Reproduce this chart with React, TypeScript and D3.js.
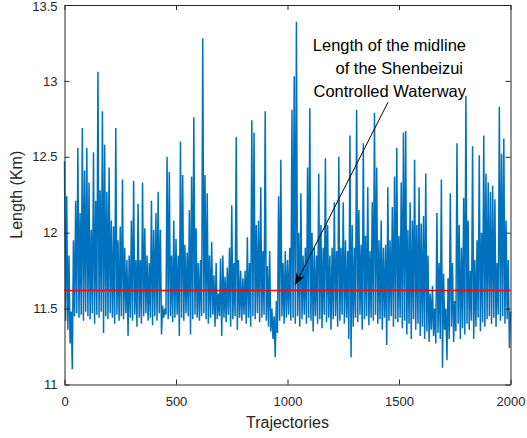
import React, { useEffect, useRef } from "react";
import * as d3 from "d3";

// upper swing of the trace, one value per 10 trajectories (t = 0, 10, 20 ...)
const peaks = [
  12.47, 12.24, 11.85, 11.48, 11.95, 12.21, 12.56, 12.13, 12.69, 12.41,
  12.56, 12.33, 12.02, 12.53, 12.21, 13.06, 12.28, 12.8, 12.58, 12.27,
  12.43, 12.08, 12.04, 12.69, 11.95, 12.04, 12.35, 11.9, 11.82, 11.85,
  12.08, 12.34, 11.82, 12.19, 11.82, 12.33, 12.03, 11.85, 11.8, 12.21,
  12.02, 12.13, 12.27, 12.02, 11.52, 11.5, 12.5, 12.4, 11.85, 12.08,
  11.96, 11.85, 12.6, 12.38, 11.92, 11.87, 12.15, 12.37, 12.76, 12.03,
  11.8, 11.82, 13.28, 12.38, 12.26, 11.85, 11.94, 11.72, 11.8, 11.6,
  11.83, 11.85, 11.71, 11.77, 11.9, 12.18, 11.8, 12.63, 11.82, 11.75,
  11.7, 11.75, 11.97, 11.8, 12.74, 12.66, 12.05, 12.08, 12.3, 11.88,
  12.8, 11.78, 11.88, 11.5, 11.45, 11.55, 12.24, 12.48, 11.8, 11.88,
  11.82, 11.9, 12.81, 13.03, 13.39, 12.0, 12.26, 11.85, 11.9, 12.43,
  12.82, 12.0, 11.9, 11.85, 12.39, 12.05, 11.9, 12.49, 12.05, 11.85,
  11.9, 12.2, 11.88, 12.5, 11.9, 12.2, 11.95, 11.88, 12.64, 12.05,
  11.9, 12.81, 12.15, 11.92, 12.59, 11.98, 12.3, 11.88, 12.2, 12.79,
  12.43, 11.95, 12.08, 11.9, 11.92, 12.3, 11.95, 12.17, 12.37, 12.56,
  11.98, 12.33, 12.66, 12.67, 12.02, 12.2, 12.08, 12.48, 12.05, 12.3,
  12.06, 12.11, 12.39, 11.85, 11.6, 11.65, 11.5, 12.13, 11.8, 12.35,
  11.73, 11.5, 11.7, 12.26, 11.8, 11.55, 12.59, 12.05, 11.9, 12.23,
  12.9, 12.08, 11.75, 12.57, 11.82, 11.95, 12.51, 12.0, 12.64, 12.39,
  12.33, 12.27, 12.31, 12.22, 11.8, 12.83, 12.52, 12.62, 12.08, 11.82,
];

// lower swing, one value per 10 trajectories (t = 5, 15, 25 ...)
const troughs = [
  11.42, 11.36, 11.27, 11.1, 11.45, 11.47, 11.44, 11.46, 11.42, 11.48,
  11.45, 11.43, 11.47, 11.4, 11.46, 11.44, 11.48, 11.34, 11.45, 11.43,
  11.47, 11.44, 11.4, 11.46, 11.42, 11.45, 11.43, 11.47, 11.32, 11.44,
  11.42, 11.46, 11.38, 11.44, 11.4, 11.45, 11.47, 11.42, 11.44, 11.39,
  11.45, 11.42, 11.47, 11.33, 11.44, 11.46, 11.43, 11.45, 11.41, 11.44,
  11.46, 11.32, 11.44, 11.42, 11.47, 11.45, 11.33, 11.43, 11.46, 11.44,
  11.42, 11.45, 11.47, 11.43, 11.4, 11.44, 11.46, 11.38, 11.43, 11.45,
  11.32, 11.44, 11.41, 11.46, 11.38, 11.43, 11.45, 11.36, 11.44, 11.42,
  11.46, 11.4, 11.44, 11.38, 11.45, 11.43, 11.47, 11.41, 11.44, 11.46,
  11.42, 11.38, 11.35, 11.3, 11.18, 11.34, 11.42, 11.45, 11.4, 11.44,
  11.46, 11.42, 11.44, 11.4, 11.45, 11.38, 11.43, 11.46, 11.4, 11.44,
  11.42, 11.35, 11.45, 11.4, 11.43, 11.37, 11.46, 11.41, 11.44, 11.36,
  11.43, 11.45, 11.38, 11.42, 11.46, 11.4, 11.44, 11.3, 11.18, 11.38,
  11.44, 11.41, 11.46, 11.36, 11.43, 11.45, 11.39, 11.44, 11.42, 11.46,
  11.4, 11.43, 11.36, 11.44, 11.26, 11.42, 11.45, 11.38, 11.43, 11.41,
  11.44, 11.37, 11.42, 11.33, 11.4, 11.3, 11.43, 11.36, 11.4, 11.32,
  11.38, 11.3, 11.35, 11.28, 11.36, 11.32, 11.27, 11.34, 11.3, 11.11,
  11.36, 11.16, 11.3, 11.38, 11.28, 11.35, 11.4, 11.3, 11.37, 11.33,
  11.4, 11.36, 11.42, 11.3, 11.38, 11.44, 11.35, 11.41, 11.38, 11.43,
  11.45, 11.4, 11.44, 11.38, 11.46, 11.42, 11.45, 11.4, 11.43, 11.24,
];
const finalLength = 11.48;

const midlineLength = 11.62;
const xTicks = [0, 500, 1000, 1500, 2000];
const yTicks = [11, 11.5, 12, 12.5, 13, 13.5];
const noteLines = ["Length of the midline", "of the Shenbeizui", "Controlled Waterway"];
const arrowFrom: [number, number] = [1451, 12.86];
const arrowTo: [number, number] = [1034, 11.655];

const FONT = "'Liberation Sans', Arial, Helvetica, sans-serif";
const INK = "#262626";

export default function App() {
  const ref = useRef<SVGSVGElement>(null);

  useEffect(() => {
    const width = 527;
    const height = 438;
    const margin = { top: 5, right: 16.5, bottom: 53.5, left: 64.5 };

    const svg = d3.select(ref.current);
    svg.selectAll("*").remove();

    const x = d3.scaleLinear().domain([0, 2000]).range([margin.left, width - margin.right]);
    const y = d3.scaleLinear().domain([11, 13.5]).range([height - margin.bottom, margin.top]);

    const series: { t: number; v: number }[] = [];
    peaks.forEach((p, i) => {
      series.push({ t: i * 10, v: p });
      series.push({ t: i * 10 + 5, v: troughs[i] });
    });
    series.push({ t: 2000, v: finalLength });

    const line = d3
      .line<{ t: number; v: number }>()
      .x((d) => x(d.t))
      .y((d) => y(d.v));

    svg
      .append("path")
      .attr("fill", "none")
      .attr("stroke", "#0072BD")
      .attr("stroke-width", 1.5)
      .attr("stroke-linejoin", "bevel")
      .attr("d", line(series));

    // reference midline
    svg
      .append("line")
      .attr("x1", x(0))
      .attr("x2", x(2000))
      .attr("y1", y(midlineLength))
      .attr("y2", y(midlineLength))
      .attr("stroke", "#ff0000")
      .attr("stroke-width", 1.5);

    const styleAxis = (g: any) => {
      g.select(".domain").attr("stroke", INK);
      g.selectAll(".tick line").attr("stroke", INK);
      g.selectAll("text").attr("fill", INK).style("font-family", FONT).style("font-size", "13px");
    };

    svg
      .append("g")
      .attr("transform", `translate(0,${y(11)})`)
      .call(d3.axisBottom(x).tickValues(xTicks).tickFormat(d3.format("d")).tickSize(-5).tickSizeOuter(0).tickPadding(12))
      .call(styleAxis);

    svg
      .append("g")
      .attr("transform", `translate(0,${y(13.5)})`)
      .call(d3.axisTop(x).tickValues(xTicks).tickFormat(() => "").tickSize(-5).tickSizeOuter(0))
      .call(styleAxis);

    svg
      .append("g")
      .attr("transform", `translate(${x(0)},0)`)
      .call(d3.axisLeft(y).tickValues(yTicks).tickFormat((d) => String(d)).tickSize(-5).tickSizeOuter(0).tickPadding(7))
      .call(styleAxis)
      // keep the top label inside the page
      .call((g) => g.selectAll(".tick text").filter((d: any) => d === 13.5).attr("dy", "0.45em"));

    svg
      .append("g")
      .attr("transform", `translate(${x(2000)},0)`)
      .call(d3.axisRight(y).tickValues(yTicks).tickFormat(() => "").tickSize(-5).tickSizeOuter(0))
      .call(styleAxis);

    svg
      .append("text")
      .attr("x", (x(0) + x(2000)) / 2)
      .attr("y", 428)
      .attr("text-anchor", "middle")
      .attr("fill", INK)
      .style("font-family", FONT)
      .style("font-size", "16px")
      .text("Trajectories");

    svg
      .append("text")
      .attr("transform", `translate(22,${(y(11) + y(13.5)) / 2}) rotate(-90)`)
      .attr("text-anchor", "middle")
      .attr("fill", INK)
      .style("font-family", FONT)
      .style("font-size", "16px")
      .text("Length (Km)");

    // annotation
    const note = svg
      .append("text")
      .attr("text-anchor", "end")
      .attr("fill", "#000")
      .style("font-family", FONT)
      .style("font-size", "16.5px");
    noteLines.forEach((s, i) => {
      note
        .append("tspan")
        .attr("x", i === 1 ? 463 : 466)
        .attr("y", 51 + i * 23)
        .text(s);
    });

    const x1 = x(arrowFrom[0]);
    const y1 = y(arrowFrom[1]);
    const x2 = x(arrowTo[0]);
    const y2 = y(arrowTo[1]);
    const ang = Math.atan2(y2 - y1, x2 - x1);
    const headLen = 12;
    const headW = 4.5;
    const notch = 8.5;
    const ux = Math.cos(ang);
    const uy = Math.sin(ang);
    const bx = x2 - ux * headLen;
    const by = y2 - uy * headLen;

    svg
      .append("line")
      .attr("x1", x1)
      .attr("y1", y1)
      .attr("x2", x2 - ux * notch)
      .attr("y2", y2 - uy * notch)
      .attr("stroke", "#000")
      .attr("stroke-width", 1);

    svg
      .append("polygon")
      .attr(
        "points",
        [
          [x2, y2],
          [bx - uy * headW, by + ux * headW],
          [x2 - ux * notch, y2 - uy * notch],
          [bx + uy * headW, by - ux * headW],
        ]
          .map((p) => p.join(","))
          .join(" ")
      )
      .attr("fill", "#000");
  }, []);

  return (
    <svg
      ref={ref}
      width={527}
      height={438}
      style={{ position: "absolute", left: 0, top: 0, background: "#fff" }}
    />
  );
}
